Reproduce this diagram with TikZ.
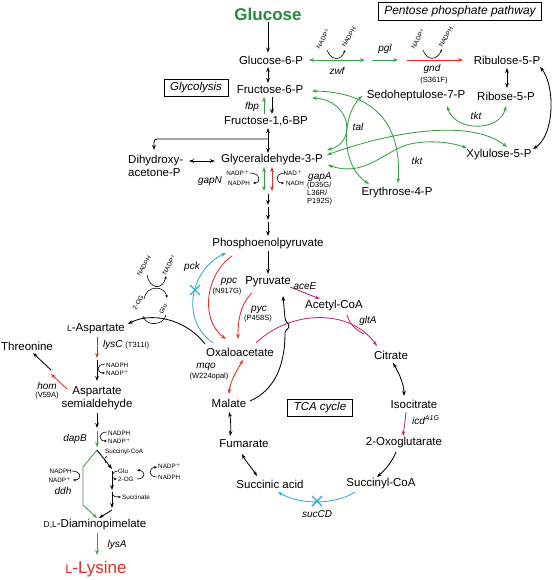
\documentclass[tikz,border=0pt]{standalone}
\usepackage{fontspec}
\setmainfont{Liberation Sans}
\usetikzlibrary{arrows.meta}
\definecolor{pgreen}{RGB}{55,160,70}
\definecolor{tgreen}{RGB}{35,140,60}
\definecolor{pred}{RGB}{228,45,38}
\definecolor{pblue}{RGB}{55,170,210}
\definecolor{pmag}{RGB}{195,40,125}
\begin{document}
\begin{tikzpicture}[x=1pt,y=-1pt,>={Stealth[length=5pt,width=3.6pt]},
 met/.style={inner sep=0pt,font=\fontsize{11.5}{13}\selectfont},
 enz/.style={inner sep=0pt,font=\fontsize{10}{11}\selectfont\itshape},
 mut/.style={inner sep=0pt,font=\fontsize{7.5}{8}\selectfont},
 cof/.style={inner sep=0pt,font=\fontsize{6.3}{7}\selectfont},
 ar/.style={->,line width=0.85pt},
 dar/.style={<->,line width=0.85pt},
 ca/.style={-{Stealth[length=3pt,width=2.4pt]},line width=0.6pt},
 bx/.style={draw,line width=0.75pt,inner xsep=6pt,inner ysep=3.5pt,font=\fontsize{11.5}{13}\selectfont\itshape},
 xm/.style={pblue,line width=1.4pt}]
\useasboundingbox (0,0) rectangle (553,580);
\fill[white] (0,0) rectangle (553,580);
% ---------------- metabolites
\node[met,text=tgreen,font=\fontsize{17}{20}\selectfont\bfseries] (glc) at (268,14) {Glucose};
\node[met] (g6p) at (271,60) {Glucose-6-P};
\node[met] (f6p) at (270,90) {Fructose-6-P};
\node[met] (fbp) at (266,121) {Fructose-1,6-BP};
\node[met] (g3p) at (272,160) {Glyceraldehyde-3-P};
\node[met,align=left,anchor=north west] (dhap) at (128,155) {Dihydroxy-\\acetone-P};
\node[met] (pep) at (268,244) {Phosphoenolpyruvate};
\node[met] (pyr) at (268,282) {Pyruvate};
\node[met] (accoa) at (334,306) {Acetyl-CoA};
\node[met] (oaa) at (240,352) {Oxaloacetate};
\node[met] (cit) at (391,355) {Citrate};
\node[met] (icit) at (414,404) {Isocitrate};
\node[met] (akg) at (404,443) {2-Oxoglutarate};
\node[met] (succoa) at (381,484) {Succinyl-CoA};
\node[met] (succ) at (270,484) {Succinic acid};
\node[met] (fum) at (244,444) {Fumarate};
\node[met] (mal) at (229,403) {Malate};
\node[met] (ru5p) at (507,60) {Ribulose-5-P};
\node[met] (r5p) at (506,96) {Ribose-5-P};
\node[met] (s7p) at (416,96) {Sedoheptulose-7-P};
\node[met] (x5p) at (499,155) {Xylulose-5-P};
\node[met] (e4p) at (397,193) {Erythrose-4-P};
\node[met] (asp) at (96,329) {{\fontsize{8.5}{10}\selectfont L}-Aspartate};
\node[met] (thr) at (27,346) {Threonine};
\node[met,align=center] (asa) at (97,398) {Aspartate\\semialdehyde};
\node[met] (dap) at (95,525) {{\fontsize{8.5}{10}\selectfont D,L}-Diaminopimelate};
\node[met,text=pred,font=\fontsize{17}{20}\selectfont] (lys) at (96,569) {{\fontsize{12.5}{14}\selectfont L}-Lysine};
% ---------------- boxes
\node[bx,font=\fontsize{12}{14}\selectfont\itshape] (ppbox) at (460,11) {Pentose phosphate pathway};
\node[bx] (glybox) at (196,88) {Glycolysis};
\node[bx] (tcabox) at (320,408) {TCA cycle};
% ---------------- glycolysis arrows
\draw[ar] ([yshift=-2pt]glc.south) -- ([yshift=3pt]glc.south |- g6p.north);
\draw[dar] (268,67) -- (268,83);
\draw[ar] (272,97) -- (272,114);
\draw[ar,pgreen] (264,114) -- (264,97);
\node[enz] (fbpl) at (252,107) {fbp};
\draw[dar] (268,128) -- (268,153);
\draw[->,line width=0.85pt,rounded corners=3pt] (268,139) -- (154,139) -- (154,150);
\draw[dar] (189,161) -- (215,161);
\draw[dar,pgreen] (264,167) -- (264,191);
\draw[dar,pred] (272,167) -- (272,191);
\node[cof] (gn1) at (238,173) {NADP$^+$};
\node[cof] (gn2) at (239,183) {NADPH};
\draw[ca] (250,173) .. controls (261,173) and (261,183) .. (253,183);
\node[cof] (ga1) at (293,173) {NAD$^+$};
\node[cof] (ga2) at (295,183) {NADH};
\draw[ca] (285,173) .. controls (275,173) and (275,183) .. (284,183);
\node[enz] (gapn) at (210,181) {gapN};
\node[enz,anchor=west] (gapa) at (308,177) {gapA};
\node[mut,anchor=north west,align=left] (gapam) at (307,182) {(D35G/\\L36R/\\P192S)};
\draw[ar] (268,194) -- (268,205);
\draw[ar] (268,207) -- (268,220);
\draw[ar] (268,222) -- (268,236);
\draw[ar] (268,251) -- (268,274);
% ---------------- pentose phosphate pathway
\draw[dar,pgreen] (309,60) -- (365,60);
\draw[ar,pgreen] (372,60) -- (398,60);
\draw[ar,pred] (407,60) -- (463,60);
\node[enz] (zwf) at (337,71) {zwf};
\node[enz] (pgl) at (385,49) {pgl};
\node[enz] (gnd) at (432,69) {gnd};
\node[mut] (gndm) at (434,81) {(S361F)};
\draw[ca] (327,50) .. controls (331,61) and (341,61) .. (345,50);
\node[cof,rotate=60] (z1) at (323,38) {NADP$^+$};
\node[cof,rotate=60] (z2) at (349,37) {NADPH};
\draw[ca] (423,50) .. controls (427,61) and (437,61) .. (442,49);
\node[cof,rotate=60] (n1) at (418,38) {NADP$^+$};
\node[cof,rotate=60] (n2) at (446,37) {NADPH};
\draw[dar] (507,68) -- (507,88);
\draw[dar] (533,149) .. controls (555,135) and (555,85) .. (540,67);
% tkt (Ribose / Sedoheptulose)
\draw[dar,pgreen] (447,106) .. controls (455,132) and (500,132) .. (506,106);
\draw[dar,pgreen] (327,155) .. controls (390,132) and (470,118) .. (507,147);
\node[enz] (tkt1) at (476,116) {tkt};
% tal
\draw[dar,pgreen] (312,98) .. controls (350,100) and (358,142) .. (327,150);
\draw[dar,pgreen] (362,96) .. controls (342,115) and (340,165) .. (369,184);
\node[enz] (tal) at (358,127) {tal};
% tkt (F6P / E4P / X5P)
\draw[dar,pgreen] (312,91) .. controls (375,92) and (402,125) .. (398,183);
\draw[dar,pgreen] (328,165) .. controls (365,178) and (385,150) .. (410,144) .. controls (430,140) and (450,142) .. (467,148);
\node[enz] (tkt2) at (417,161) {tkt};
% ---------------- anaplerotic / TCA
\draw[ar,pmag] (290,287) -- (320,299);
\node[enz] (acee) at (305,286) {aceE};
\draw[ar,pmag] (256,343) .. controls (290,310) and (350,308) .. (377,346);
\draw[pmag,line width=0.85pt] (347,315) .. controls (350,325) and (356,330) .. (364,334);
\node[enz] (glta) at (368,321) {gltA};
\draw[ar,pblue] (213,343) .. controls (180,320) and (190,270) .. (226,253);
\draw[xm] (190,285) -- (200,295) (190,295) -- (200,285);
\node[enz] (pck) at (192,267) {pck};
\draw[ar,pred] (232,256) .. controls (205,275) and (200,320) .. (226,339);
\node[enz] (ppc) at (229,282) {ppc};
\node[mut] (ppcm) at (227,292) {(N917G)};
\draw[ar,pred] (252,293) .. controls (240,305) and (238,320) .. (238,339);
\node[enz] (pyc) at (259,310) {pyc};
\node[mut] (pycm) at (258,319) {(P458S)};
\draw[dar,pred] (243,360) .. controls (236,372) and (230,382) .. (229,394);
\node[enz] (mqo) at (206,367) {mqo};
\node[mut] (mqom) at (209,377) {(W224opal)};
\draw[->,line width=0.85pt] (250,401) .. controls (275,390) and (285,365) .. (285,333)
   .. controls (285,330) and (289,329) .. (289,326) .. controls (289,323) and (285,322) .. (285,318)
   -- (283,296);
\draw[dar] (393,363) .. controls (400,375) and (404,385) .. (404,396);
\draw[ar,pmag] (406,412) .. controls (405,422) and (404,428) .. (403,436);
\node[enz,anchor=west] (icd) at (412,420) {icd$^{\mathit{A1G}}$};
\draw[ar] (396,452) .. controls (392,462) and (385,470) .. (377,477);
\draw[ar,pblue] (355,492) .. controls (335,505) and (300,505) .. (278,492);
\draw[xm] (312,496) -- (322,506) (312,506) -- (322,496);
\node[enz] (succd) at (317,514) {sucCD};
\draw[dar] (257,476) .. controls (252,468) and (246,462) .. (242,454);
\draw[dar] (230,436) .. controls (231,430) and (231,420) .. (229,412);
% ---------------- aspartate branch
\draw[ar] (205,344) .. controls (185,318) and (150,312) .. (128,324);
\draw[ca] (147,275) .. controls (150,290) and (163,290) .. (166,276);
\node[cof,rotate=60] (as1) at (144,266) {NADPH};
\node[cof,rotate=60] (as2) at (169,264) {NADP$^+$};
\draw[ca] (144,299) .. controls (146,285) and (165,285) .. (167,298);
\node[cof,rotate=60] (as3) at (138,303) {2-OG};
\node[cof,rotate=60] (as4) at (163,309) {Glu};
\draw[ca] (166,315) .. controls (163,326) and (147,326) .. (143,316);
\draw[ar,pred] (97,337) -- (97,358);
\node[inner sep=0pt,anchor=west] (lysc) at (103,345) {\fontsize{10}{11}\selectfont\itshape lysC \fontsize{7.5}{8}\selectfont\upshape(T311I)};
\draw[ar] (97,360) -- (97,381);
\node[cof,anchor=west] (l1) at (106,365) {NADPH};
\node[cof,anchor=west] (l2) at (106,373) {NADP$^+$};
\draw[ca] (105,364) .. controls (96,364) and (96,373) .. (105,373);
\draw[ar,pred] (67,389) -- (51,374);
\draw[ar] (51,370) -- (33,353);
\node[enz] (hom) at (47,386) {hom};
\node[mut] (homm) at (47,396) {(V59A)};
\draw[ar] (97,413) -- (97,428);
\draw[ar,pgreen] (97,431) -- (97,447);
\node[cof,anchor=west] (d1) at (108,433) {NADPH};
\node[cof,anchor=west] (d2) at (108,441) {NADP$^+$};
\draw[ca] (107,432) .. controls (98,432) and (98,441) .. (107,441);
\node[enz] (dapb) at (75,439) {dapB};
\draw[->,pgreen,line width=0.85pt] (97,450) -- (83,467) -- (83,505) -- (97,518);
\node[cof,anchor=east] (h1) at (72,471) {NADPH};
\node[cof,anchor=east] (h2) at (72,480) {NADP$^+$};
\draw[ca] (72,471) .. controls (82,471) and (82,480) .. (73,480);
\node[enz] (ddh) at (63,491) {ddh};
\draw[ar] (97,450) -- (112,469);
\node[cof,anchor=west] (s1) at (105,452) {Succinyl-CoA};
\draw[line width=0.6pt] (107,456) .. controls (104,458) and (104,461) .. (106,463);
\draw[ar] (112,471) -- (112,490);
\node[cof,anchor=west] (s2) at (118,471) {Glu};
\node[cof,anchor=west] (s3) at (118,479) {2-OG};
\draw[ca] (118,471) .. controls (111,471) and (111,479) .. (117,479);
\draw[ca] (137,479) .. controls (146,479) and (146,471) .. (137,470);
\draw[ca] (157,477) .. controls (148,477) and (148,468) .. (157,467);
\node[cof,anchor=west] (s4) at (158,466) {NADP$^+$};
\node[cof,anchor=west] (s5) at (158,477) {NADPH};
\draw[ar] (112,492) -- (112,508);
\draw[ca] (112,493) .. controls (113,497) and (116,497) .. (121,497);
\node[cof,anchor=west] (s6) at (122,497) {Succinate};
\draw[ar] (112,510) -- (99,518);
\draw[ar,pgreen] (97,533) -- (97,555);
\node[enz] (lysa) at (117,545) {lysA};
\end{tikzpicture}
\end{document}
